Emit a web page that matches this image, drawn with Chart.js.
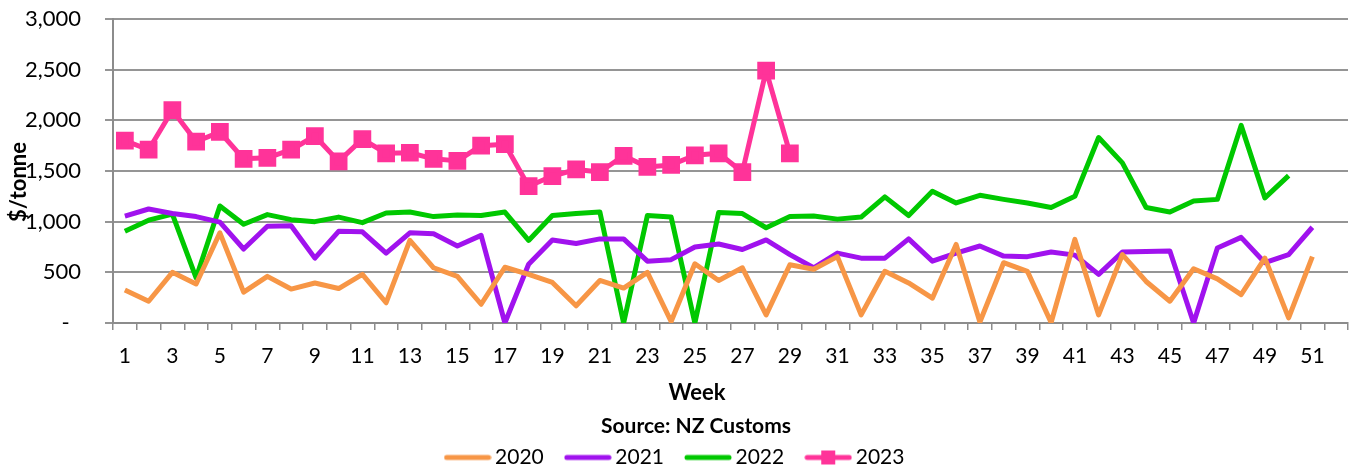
<!DOCTYPE html>
<html>
<head>
    <script src="https://cdn.jsdelivr.net/npm/chart.js@4/dist/chart.umd.min.js"></script>
    <style>
        html, body {
            margin: 0;
            padding: 0;
            background: white;
        }
        .chart-container {
            width: 1362px;
            height: 470px;
            position: relative;
        }
    </style>
</head>
<body>
    <div class="chart-container">
        <canvas id="priceChart"></canvas>
    </div>

    <script>
        const FONT = 'Lato, "Noto Sans", sans-serif';

        // weeks 1..52 (52 has no data)
        const weeks = [];
        for (let w = 1; w <= 52; w++) weeks.push(String(w));

        const years = ['2020', '2021', '2022', '2023'];
        const colors = ['#F79646', '#A012EE', '#00C800', '#FF3399'];

        const values2020 = [325, 215, 500, 385, 890, 305, 460, 335, 395, 340,
            480, 200, 815, 545, 460, 185, 550, 480, 400, 170,
            420, 345, 500, 15, 585, 420, 545, 80, 575, 530,
            655, 80, 510, 395, 245, 775, 10, 595, 510, 5,
            825, 80, 675, 410, 215, 535, 435, 280, 640, 50,
            655];
        const values2021 = [1055, 1125, 1080, 1050, 995, 730, 955, 960, 640, 905,
            900, 690, 890, 880, 760, 865, 0, 580, 820, 785,
            830, 830, 610, 625, 750, 780, 725, 820, 675, 545,
            690, 640, 640, 830, 610, 690, 760, 660, 655, 700,
            670, 480, 700, 705, 710, 0, 740, 845, 595, 675,
            945];
        const values2022 = [905, 1015, 1075, 445, 1155, 975, 1070, 1020, 1000, 1045,
            990, 1085, 1095, 1050, 1065, 1060, 1095, 815, 1060, 1080,
            1095, 0, 1060, 1045, 0, 1090, 1080, 940, 1050, 1055,
            1025, 1045, 1245, 1060, 1300, 1185, 1260, 1220, 1185, 1140,
            1250, 1830, 1580, 1140, 1095, 1205, 1220, 1950, 1235, 1455];
        const values2023 = [1800, 1710, 2100, 1790, 1885, 1620, 1630, 1710, 1845, 1595,
            1815, 1675, 1680, 1620, 1600, 1750, 1765, 1350, 1450, 1515,
            1490, 1650, 1540, 1560, 1655, 1675, 1490, 2490, 1675];

        const yTicks = [0, 500, 1000, 1500, 2000, 2500, 3000];

        // little line (and marker) pictures for the legend
        function legendSwatch(color, marker) {
            const c = document.createElement('canvas');
            c.width = 48;
            c.height = 16;
            const g = c.getContext('2d');
            g.strokeStyle = color;
            g.lineWidth = 5;
            g.lineCap = 'round';
            g.beginPath();
            g.moveTo(3, 8);
            g.lineTo(45, 8);
            g.stroke();
            if (marker) {
                g.fillStyle = color;
                g.fillRect(17, 1, 14, 14);
            }
            return c;
        }

        const allValues = [values2020, values2021, values2022, values2023];
        const datasets = years.map((y, i) => ({
            label: y,
            data: allValues[i],
            borderColor: colors[i],
            backgroundColor: colors[i],
            borderWidth: 5,
            borderJoinStyle: 'round',
            pointRadius: i === 3 ? 9 : 0,
            pointStyle: 'rect',
            pointHoverRadius: i === 3 ? 9 : 0,
            tension: 0,
            fill: false,
            swatch: legendSwatch(colors[i], i === 3)
        }));

        // axis titles and source line are drawn straight on the canvas
        const extraText = {
            id: 'extraText',
            afterDraw(chart) {
                const ctx = chart.ctx;
                ctx.save();
                ctx.fillStyle = '#000';
                ctx.textAlign = 'center';
                ctx.textBaseline = 'middle';
                ctx.font = 'bold 22px ' + FONT;
                ctx.fillText('Week', 697, 393);
                ctx.font = 'bold 21px ' + FONT;
                ctx.fillText('Source: NZ Customs', 696, 426);
                ctx.translate(19, 182);
                ctx.rotate(-Math.PI / 2);
                ctx.font = 'bold 22px ' + FONT;
                ctx.fillText('$/tonne', 0, 0);
                ctx.restore();
            }
        };

        const ctx = document.getElementById('priceChart').getContext('2d');
        const chart = new Chart(ctx, {
            type: 'line',
            data: { labels: weeks, datasets: datasets },
            plugins: [extraText],
            options: {
                responsive: true,
                maintainAspectRatio: false,
                animation: false,
                layout: {
                    padding: { top: 19, right: 7, bottom: -8, left: 0 }
                },
                scales: {
                    x: {
                        type: 'category',
                        offset: true,
                        afterFit: (scale) => {
                            scale.height = 97;
                            scale.paddingLeft = 0;
                            scale.paddingRight = 0;
                        },
                        border: { display: true, color: '#8c8c8c', width: 2 },
                        grid: {
                            offset: true,
                            drawOnChartArea: false,
                            drawTicks: true,
                            tickLength: 7,
                            color: '#8c8c8c',
                            lineWidth: 1.5
                        },
                        ticks: {
                            autoSkip: false,
                            maxRotation: 0,
                            padding: 14,
                            color: '#000',
                            font: { family: FONT, size: 21 },
                            callback: (v, i) => (i % 2 === 0 ? weeks[i] : '')
                        }
                    },
                    y: {
                        min: yTicks[0],
                        max: yTicks[yTicks.length - 1],
                        afterFit: (scale) => {
                            scale.width = 113;
                            scale.paddingTop = 0;
                            scale.paddingBottom = 0;
                        },
                        afterBuildTicks: (scale) => {
                            scale.ticks = yTicks.map(v => ({ value: v }));
                        },
                        border: { display: true, color: '#8c8c8c', width: 2 },
                        grid: {
                            color: '#959595',
                            lineWidth: 2,
                            drawTicks: true,
                            tickLength: 8
                        },
                        ticks: {
                            padding: 24,
                            color: '#000',
                            font: { family: FONT, size: 22 },
                            callback: (v) => (v === 0 ? '-  ' : v.toLocaleString('en-US'))
                        }
                    }
                },
                plugins: {
                    title: { display: false },
                    tooltip: { enabled: false },
                    legend: {
                        position: 'bottom',
                        labels: {
                            usePointStyle: true,
                            pointStyleWidth: 34,
                            padding: 27,
                            color: '#000',
                            font: { family: FONT, size: 21 },
                            generateLabels: (chart) => chart.data.datasets.map((ds, i) => ({
                                text: ds.label,
                                fillStyle: ds.borderColor,
                                strokeStyle: ds.borderColor,
                                lineWidth: 0,
                                pointStyle: ds.swatch,
                                hidden: false,
                                datasetIndex: i
                            }))
                        }
                    }
                }
            }
        });
    </script>
</body>
</html>
